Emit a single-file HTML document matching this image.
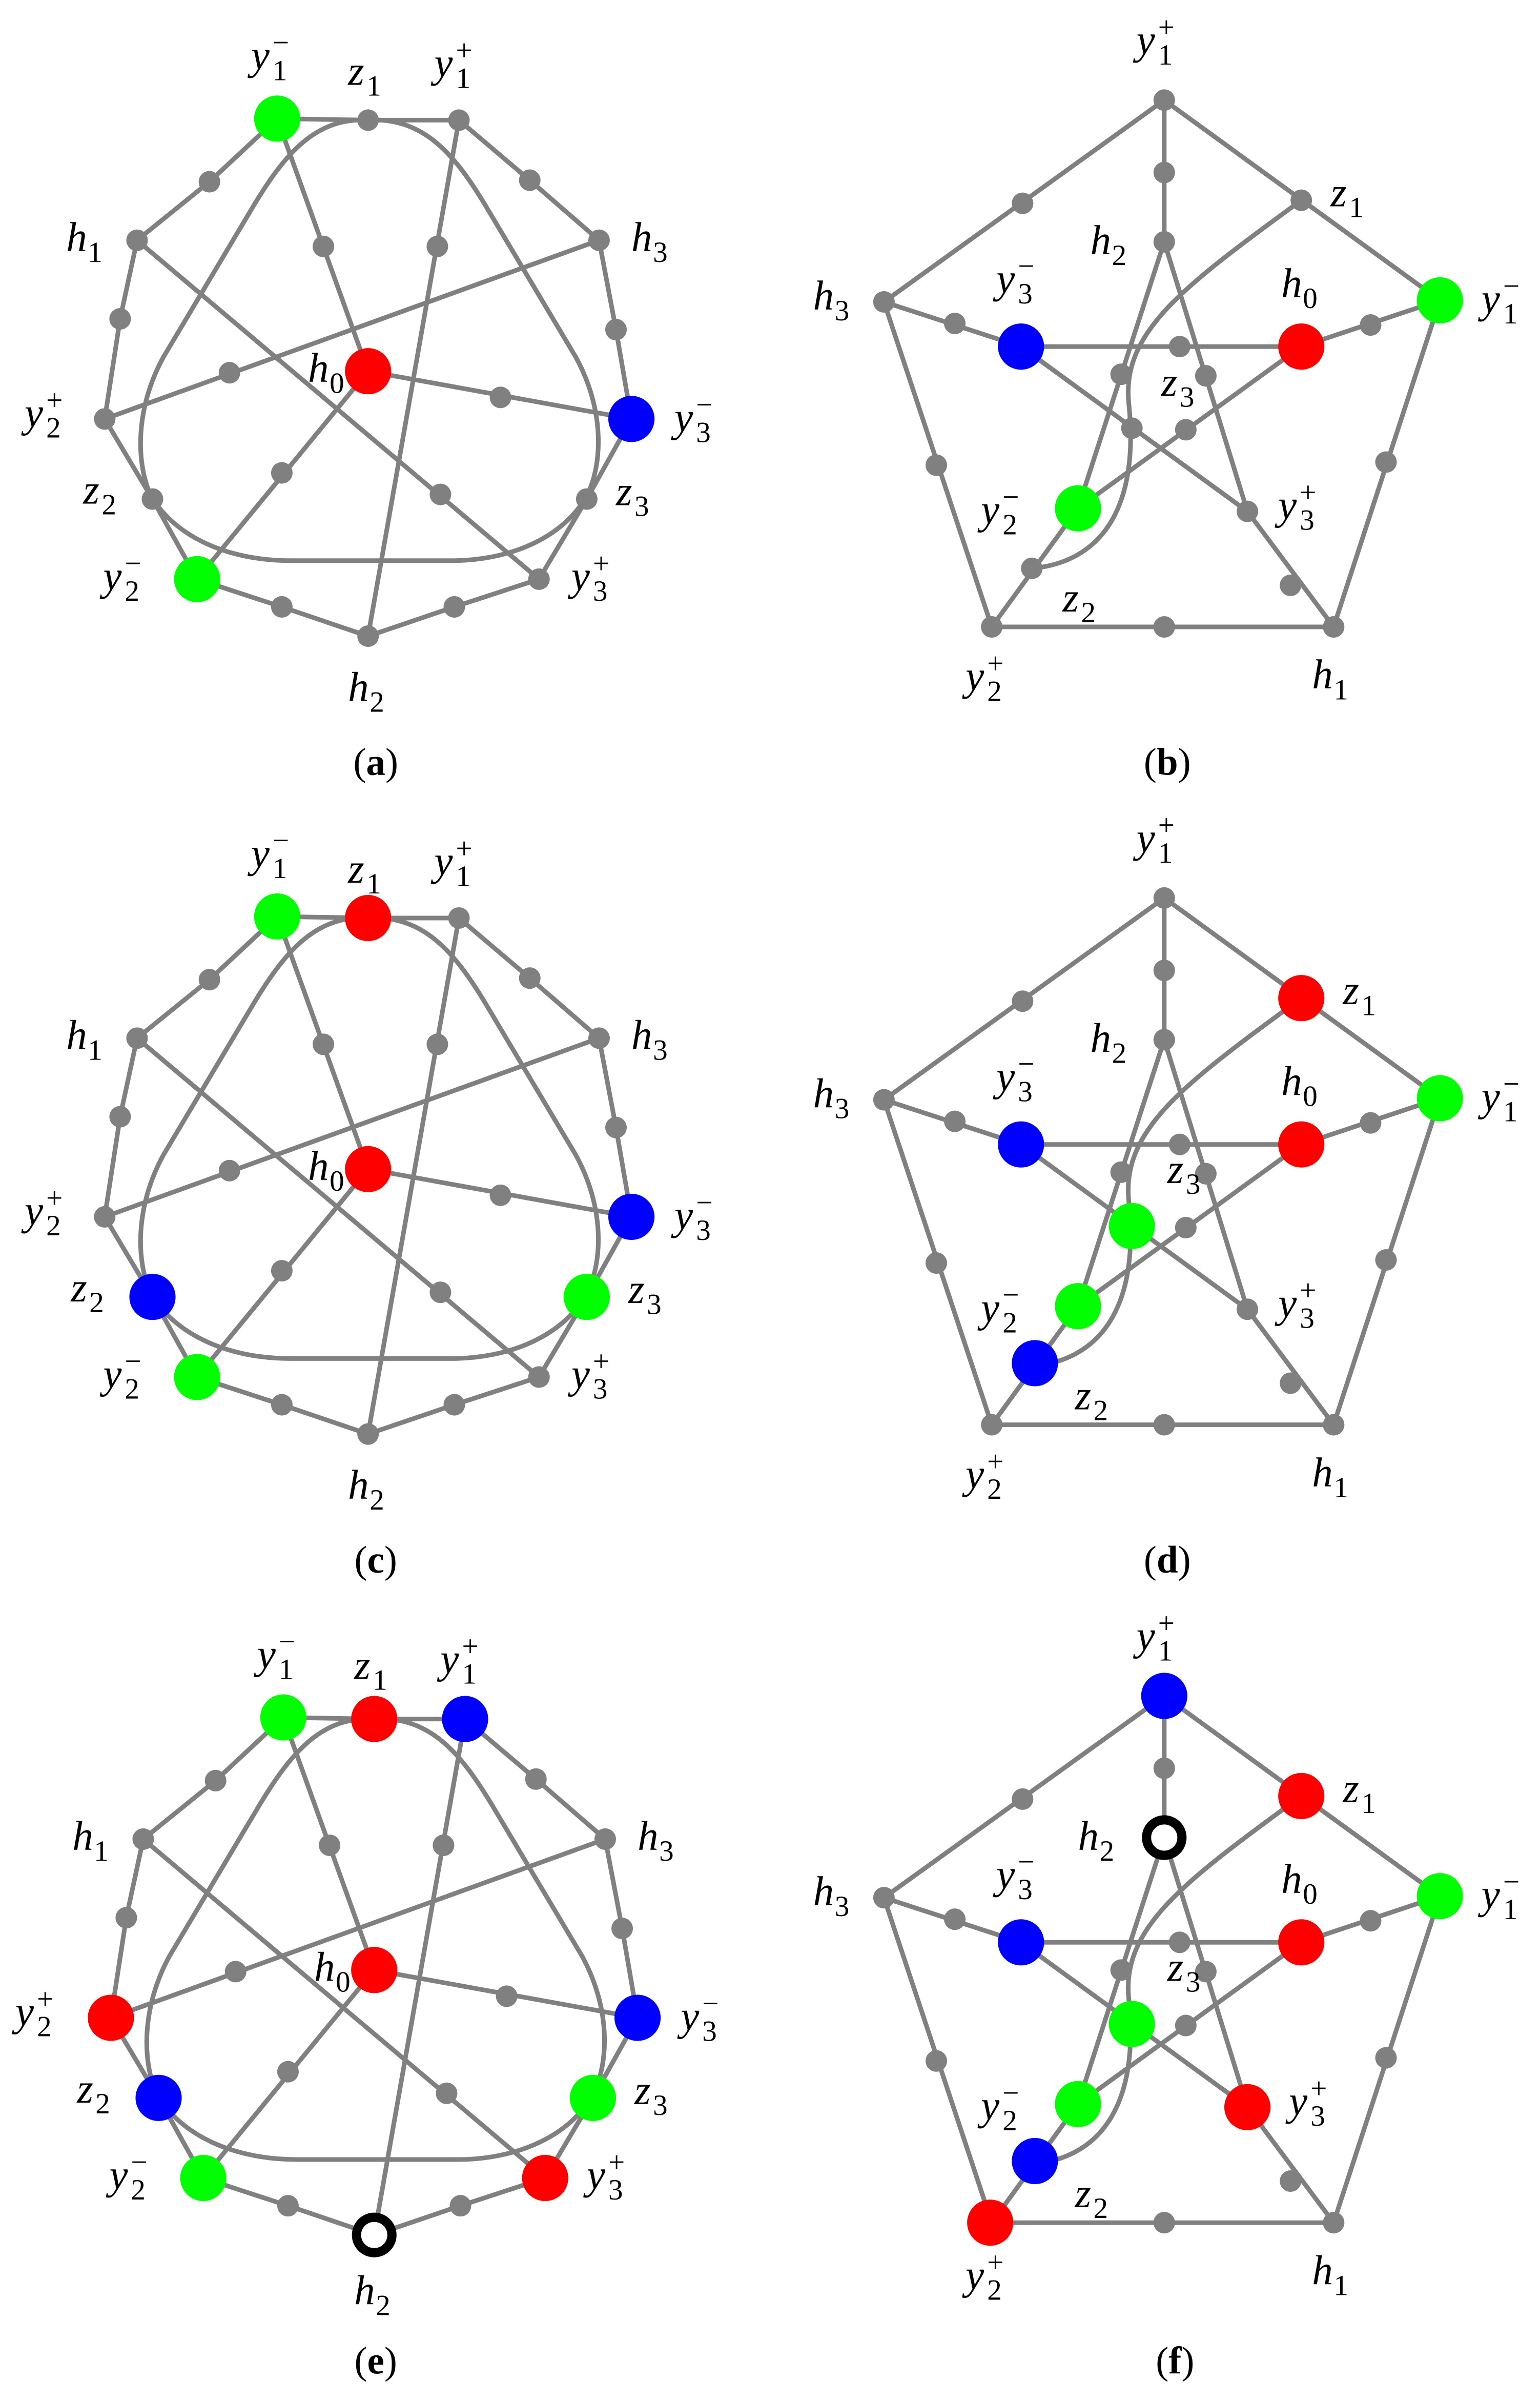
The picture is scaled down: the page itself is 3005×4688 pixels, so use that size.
<!DOCTYPE html>
<html><head><meta charset="utf-8"><style>
html,body{margin:0;padding:0;background:#fff;}
svg{display:block;}
text{font-family:"Liberation Serif",serif;font-style:italic;fill:#000;}
.m{font-size:27px;}
.i{font-size:19px;font-style:normal;}
.c{font-size:25px;font-style:normal;}
</style></head><body>
<svg width="3005" height="4688" viewBox="0 0 1000 1560.07" xmlns="http://www.w3.org/2000/svg">
<defs>
<g id="ea" fill="none" stroke="#808080" stroke-width="3" stroke-linejoin="round">
<polygon points="180,77 239,78 298,78 344,117 389,156 400,214 410,272 381,324 350,376 295,394 239,413 183,394 128,376 99,324 68,272 78,207 89,156 136,118"/>
<line x1="180" y1="77" x2="239" y2="241"/>
<line x1="239" y1="241" x2="410" y2="272"/>
<line x1="239" y1="241" x2="128" y2="376"/>
<line x1="389" y1="156" x2="68" y2="272"/>
<line x1="89" y1="156" x2="350" y2="376"/>
<line x1="298" y1="78" x2="239" y2="413"/>
<path d="M239,78 C205,76 185,100 165,133 L106,232 C88,265 88,300 98,322 C115,350 150,364 189,364 L293,364 C330,364 365,350 381,322 C392,300 392,265 374,232 L315,133 C295,100 275,76 239,78 Z"/>
</g>
<g id="ga" fill="#808080">
<circle cx="136" cy="118" r="7"/><circle cx="344" cy="117" r="7"/>
<circle cx="78" cy="207" r="7"/><circle cx="400" cy="214" r="7"/>
<circle cx="183" cy="394" r="7"/><circle cx="295" cy="394" r="7"/>
<circle cx="89" cy="156" r="7"/><circle cx="389" cy="156" r="7"/>
<circle cx="210" cy="160" r="7"/><circle cx="284" cy="160" r="7"/>
<circle cx="149" cy="242" r="7"/><circle cx="325" cy="258" r="7"/>
<circle cx="183" cy="307" r="7"/><circle cx="286" cy="321" r="7"/>
</g>
<g id="eb" fill="none" stroke="#808080" stroke-width="3" stroke-linejoin="round">
<polygon points="756,65 574,196 644,407 866,407 935,195"/>
<line x1="756" y1="65" x2="756" y2="157"/>
<line x1="574" y1="196" x2="663" y2="225"/>
<line x1="935" y1="195" x2="845" y2="225"/>
<line x1="644" y1="407" x2="700" y2="330"/>
<line x1="866" y1="407" x2="810" y2="332"/>
<line x1="756" y1="157" x2="700" y2="330"/>
<line x1="756" y1="157" x2="810" y2="332"/>
<line x1="663" y1="225" x2="845" y2="225"/>
<line x1="663" y1="225" x2="810" y2="332"/>
<line x1="845" y1="225" x2="700" y2="330"/>
<path d="M845,130 C770,185 728,215 733,262 C740,330 715,365 670,369"/>
</g>
<g id="gb" fill="#808080">
<circle cx="664" cy="132" r="7"/><circle cx="608" cy="302" r="7"/>
<circle cx="900" cy="300" r="7"/><circle cx="756" cy="407" r="7"/>
<circle cx="756" cy="112" r="7"/><circle cx="620" cy="210" r="7"/>
<circle cx="890" cy="211" r="7"/><circle cx="766" cy="225" r="7"/>
<circle cx="770" cy="279" r="7"/><circle cx="838" cy="380" r="7"/>
<circle cx="728" cy="243" r="7"/><circle cx="783" cy="244" r="7"/>
<circle cx="574" cy="196" r="7"/><circle cx="644" cy="407" r="7"/><circle cx="866" cy="407" r="7"/>
</g>
</defs>

<!-- (a) -->
<use href="#ea"/><use href="#ga"/>
<g fill="#808080"><circle cx="239" cy="78" r="7"/><circle cx="298" cy="78" r="7"/><circle cx="68" cy="272" r="7"/><circle cx="99" cy="324" r="7"/><circle cx="381" cy="324" r="7"/><circle cx="350" cy="376" r="7"/><circle cx="239" cy="413" r="7"/></g>
<circle cx="180" cy="77" r="15" fill="#00ff00"/><circle cx="239" cy="241" r="15" fill="#ff0000"/><circle cx="410" cy="272" r="15" fill="#0000ff"/><circle cx="128" cy="376" r="15" fill="#00ff00"/>
<g>
<text class="m" x="163" y="45">y</text><text class="i" x="177" y="52">1</text><text class="i" x="177" y="34">−</text>
<text class="m" x="226" y="55">z</text><text class="i" x="238" y="62">1</text>
<text class="m" x="282" y="50">y</text><text class="i" x="296" y="57">1</text><text class="i" x="296" y="39">+</text>
<text class="m" x="43" y="163">h</text><text class="i" x="57" y="170">1</text>
<text class="m" x="410" y="163">h</text><text class="i" x="424" y="170">3</text>
<text class="m" x="16" y="277">y</text><text class="i" x="30" y="284">2</text><text class="i" x="30" y="266">+</text>
<text class="m" x="438" y="280">y</text><text class="i" x="452" y="287">3</text><text class="i" x="452" y="269">−</text>
<text class="m" x="54" y="327">z</text><text class="i" x="66" y="334">2</text>
<text class="m" x="200" y="248">h</text><text class="i" x="214" y="255">0</text>
<text class="m" x="400" y="328">z</text><text class="i" x="412" y="335">3</text>
<text class="m" x="67" y="383">y</text><text class="i" x="81" y="390">2</text><text class="i" x="81" y="372">−</text>
<text class="m" x="371" y="383">y</text><text class="i" x="385" y="390">3</text><text class="i" x="385" y="372">+</text>
<text class="m" x="226" y="455">h</text><text class="i" x="240" y="462">2</text>
</g>
<text class="c" x="244" y="503" text-anchor="middle">(<tspan font-weight="bold">a</tspan>)</text>

<!-- (b) -->
<use href="#eb"/><use href="#gb"/>
<g fill="#808080"><circle cx="756" cy="65" r="7"/><circle cx="845" cy="130" r="7"/><circle cx="756" cy="157" r="7"/><circle cx="735" cy="278" r="7"/><circle cx="810" cy="332" r="7"/><circle cx="670" cy="369" r="7"/></g>
<circle cx="663" cy="225" r="15" fill="#0000ff"/><circle cx="845" cy="225" r="15" fill="#ff0000"/><circle cx="935" cy="195" r="15" fill="#00ff00"/><circle cx="700" cy="330" r="15" fill="#00ff00"/>
<g>
<text class="m" x="738" y="35">y</text><text class="i" x="752" y="42">1</text><text class="i" x="752" y="24">+</text>
<text class="m" x="864" y="134">z</text><text class="i" x="876" y="141">1</text>
<text class="m" x="708" y="165">h</text><text class="i" x="722" y="172">2</text>
<text class="m" x="528" y="201">h</text><text class="i" x="542" y="208">3</text>
<text class="m" x="647" y="190">y</text><text class="i" x="661" y="197">3</text><text class="i" x="661" y="179">−</text>
<text class="m" x="832" y="193">h</text><text class="i" x="846" y="200">0</text>
<text class="m" x="962" y="203">y</text><text class="i" x="976" y="210">1</text><text class="i" x="976" y="192">−</text>
<text class="m" x="754" y="257">z</text><text class="i" x="766" y="264">3</text>
<text class="m" x="637" y="340">y</text><text class="i" x="651" y="347">2</text><text class="i" x="651" y="329">−</text>
<text class="m" x="830" y="337">y</text><text class="i" x="844" y="344">3</text><text class="i" x="844" y="326">+</text>
<text class="m" x="690" y="397">z</text><text class="i" x="702" y="404">2</text>
<text class="m" x="627" y="448">y</text><text class="i" x="641" y="455">2</text><text class="i" x="641" y="437">+</text>
<text class="m" x="852" y="447">h</text><text class="i" x="866" y="454">1</text>
</g>
<text class="c" x="758" y="503" text-anchor="middle">(<tspan font-weight="bold">b</tspan>)</text>

<!-- (c) -->
<g transform="translate(0,518)">
<use href="#ea"/><use href="#ga"/>
<g fill="#808080"><circle cx="298" cy="78" r="7"/><circle cx="68" cy="272" r="7"/><circle cx="350" cy="376" r="7"/><circle cx="239" cy="413" r="7"/></g>
<circle cx="180" cy="77" r="15" fill="#00ff00"/><circle cx="239" cy="78" r="15" fill="#ff0000"/><circle cx="239" cy="241" r="15" fill="#ff0000"/><circle cx="410" cy="272" r="15" fill="#0000ff"/><circle cx="128" cy="376" r="15" fill="#00ff00"/><circle cx="99" cy="324" r="15" fill="#0000ff"/><circle cx="381" cy="324" r="15" fill="#00ff00"/>
<text class="m" x="163" y="45">y</text><text class="i" x="177" y="52">1</text><text class="i" x="177" y="34">−</text>
<text class="m" x="226" y="55">z</text><text class="i" x="238" y="62">1</text>
<text class="m" x="282" y="50">y</text><text class="i" x="296" y="57">1</text><text class="i" x="296" y="39">+</text>
<text class="m" x="43" y="163">h</text><text class="i" x="57" y="170">1</text>
<text class="m" x="410" y="163">h</text><text class="i" x="424" y="170">3</text>
<text class="m" x="16" y="277">y</text><text class="i" x="30" y="284">2</text><text class="i" x="30" y="266">+</text>
<text class="m" x="438" y="280">y</text><text class="i" x="452" y="287">3</text><text class="i" x="452" y="269">−</text>
<text class="m" x="46" y="327">z</text><text class="i" x="58" y="334">2</text>
<text class="m" x="200" y="248">h</text><text class="i" x="214" y="255">0</text>
<text class="m" x="408" y="328">z</text><text class="i" x="420" y="335">3</text>
<text class="m" x="67" y="383">y</text><text class="i" x="81" y="390">2</text><text class="i" x="81" y="372">−</text>
<text class="m" x="371" y="383">y</text><text class="i" x="385" y="390">3</text><text class="i" x="385" y="372">+</text>
<text class="m" x="226" y="455">h</text><text class="i" x="240" y="462">2</text>
<text class="c" x="244" y="503" text-anchor="middle">(<tspan font-weight="bold">c</tspan>)</text>
</g>

<!-- (d) -->
<g transform="translate(0,518)">
<use href="#eb"/><use href="#gb"/>
<g fill="#808080"><circle cx="756" cy="65" r="7"/><circle cx="756" cy="157" r="7"/><circle cx="810" cy="332" r="7"/></g>
<circle cx="845" cy="130" r="15" fill="#ff0000"/><circle cx="663" cy="225" r="15" fill="#0000ff"/><circle cx="845" cy="225" r="15" fill="#ff0000"/><circle cx="935" cy="195" r="15" fill="#00ff00"/><circle cx="735" cy="278" r="15" fill="#00ff00"/><circle cx="700" cy="330" r="15" fill="#00ff00"/><circle cx="672" cy="367" r="15" fill="#0000ff"/>
<text class="m" x="738" y="35">y</text><text class="i" x="752" y="42">1</text><text class="i" x="752" y="24">+</text>
<text class="m" x="872" y="134">z</text><text class="i" x="884" y="141">1</text>
<text class="m" x="708" y="165">h</text><text class="i" x="722" y="172">2</text>
<text class="m" x="528" y="201">h</text><text class="i" x="542" y="208">3</text>
<text class="m" x="647" y="190">y</text><text class="i" x="661" y="197">3</text><text class="i" x="661" y="179">−</text>
<text class="m" x="832" y="193">h</text><text class="i" x="846" y="200">0</text>
<text class="m" x="962" y="203">y</text><text class="i" x="976" y="210">1</text><text class="i" x="976" y="192">−</text>
<text class="m" x="758" y="250">z</text><text class="i" x="770" y="257">3</text>
<text class="m" x="637" y="340">y</text><text class="i" x="651" y="347">2</text><text class="i" x="651" y="329">−</text>
<text class="m" x="830" y="337">y</text><text class="i" x="844" y="344">3</text><text class="i" x="844" y="326">+</text>
<text class="m" x="698" y="397">z</text><text class="i" x="710" y="404">2</text>
<text class="m" x="627" y="448">y</text><text class="i" x="641" y="455">2</text><text class="i" x="641" y="437">+</text>
<text class="m" x="852" y="447">h</text><text class="i" x="866" y="454">1</text>
<text class="c" x="758" y="503" text-anchor="middle">(<tspan font-weight="bold">d</tspan>)</text>
</g>

<!-- (e) -->
<g transform="translate(4,1038)">
<use href="#ea"/><use href="#ga"/>
<circle cx="180" cy="77" r="15" fill="#00ff00"/><circle cx="239" cy="78" r="15" fill="#ff0000"/><circle cx="298" cy="78" r="15" fill="#0000ff"/><circle cx="239" cy="241" r="15" fill="#ff0000"/><circle cx="68" cy="272" r="15" fill="#ff0000"/><circle cx="410" cy="272" r="15" fill="#0000ff"/><circle cx="99" cy="324" r="15" fill="#0000ff"/><circle cx="381" cy="324" r="15" fill="#00ff00"/><circle cx="128" cy="376" r="15" fill="#00ff00"/><circle cx="350" cy="376" r="15" fill="#ff0000"/>
<circle cx="239" cy="413" r="11.5" fill="#fff" stroke="#000" stroke-width="6"/>
<text class="m" x="163" y="45">y</text><text class="i" x="177" y="52">1</text><text class="i" x="177" y="34">−</text>
<text class="m" x="226" y="52">z</text><text class="i" x="238" y="59">1</text>
<text class="m" x="282" y="48">y</text><text class="i" x="296" y="55">1</text><text class="i" x="296" y="37">+</text>
<text class="m" x="43" y="163">h</text><text class="i" x="57" y="170">1</text>
<text class="m" x="410" y="163">h</text><text class="i" x="424" y="170">3</text>
<text class="m" x="6" y="277">y</text><text class="i" x="20" y="284">2</text><text class="i" x="20" y="266">+</text>
<text class="m" x="438" y="280">y</text><text class="i" x="452" y="287">3</text><text class="i" x="452" y="269">−</text>
<text class="m" x="46" y="327">z</text><text class="i" x="58" y="334">2</text>
<text class="m" x="200" y="248">h</text><text class="i" x="214" y="255">0</text>
<text class="m" x="408" y="328">z</text><text class="i" x="420" y="335">3</text>
<text class="m" x="67" y="383">y</text><text class="i" x="81" y="390">2</text><text class="i" x="81" y="372">−</text>
<text class="m" x="377" y="383">y</text><text class="i" x="391" y="390">3</text><text class="i" x="391" y="372">+</text>
<text class="m" x="226" y="458">h</text><text class="i" x="240" y="465">2</text>
<text class="c" x="240" y="503" text-anchor="middle">(<tspan font-weight="bold">e</tspan>)</text>
</g>

<!-- (f) -->
<g transform="translate(0,1036)">
<use href="#eb"/><use href="#gb"/>
<circle cx="756" cy="65" r="15" fill="#0000ff"/><circle cx="845" cy="130" r="15" fill="#ff0000"/><circle cx="663" cy="225" r="15" fill="#0000ff"/><circle cx="845" cy="225" r="15" fill="#ff0000"/><circle cx="935" cy="195" r="15" fill="#00ff00"/><circle cx="735" cy="278" r="15" fill="#00ff00"/><circle cx="700" cy="330" r="15" fill="#00ff00"/><circle cx="810" cy="332" r="15" fill="#ff0000"/><circle cx="672" cy="367" r="15" fill="#0000ff"/><circle cx="643" cy="407" r="15" fill="#ff0000"/>
<circle cx="756" cy="157" r="11.5" fill="#fff" stroke="#000" stroke-width="6"/>
<text class="m" x="738" y="35">y</text><text class="i" x="752" y="42">1</text><text class="i" x="752" y="24">+</text>
<text class="m" x="872" y="134">z</text><text class="i" x="884" y="141">1</text>
<text class="m" x="700" y="165">h</text><text class="i" x="714" y="172">2</text>
<text class="m" x="528" y="201">h</text><text class="i" x="542" y="208">3</text>
<text class="m" x="647" y="190">y</text><text class="i" x="661" y="197">3</text><text class="i" x="661" y="179">−</text>
<text class="m" x="832" y="193">h</text><text class="i" x="846" y="200">0</text>
<text class="m" x="962" y="203">y</text><text class="i" x="976" y="210">1</text><text class="i" x="976" y="192">−</text>
<text class="m" x="758" y="250">z</text><text class="i" x="770" y="257">3</text>
<text class="m" x="637" y="340">y</text><text class="i" x="651" y="347">2</text><text class="i" x="651" y="329">−</text>
<text class="m" x="837" y="337">y</text><text class="i" x="851" y="344">3</text><text class="i" x="851" y="326">+</text>
<text class="m" x="698" y="397">z</text><text class="i" x="710" y="404">2</text>
<text class="m" x="627" y="450">y</text><text class="i" x="641" y="457">2</text><text class="i" x="641" y="439">+</text>
<text class="m" x="852" y="447">h</text><text class="i" x="866" y="454">1</text>
<text class="c" x="763" y="505" text-anchor="middle">(<tspan font-weight="bold">f</tspan>)</text>
</g>
</svg>
</body></html>
